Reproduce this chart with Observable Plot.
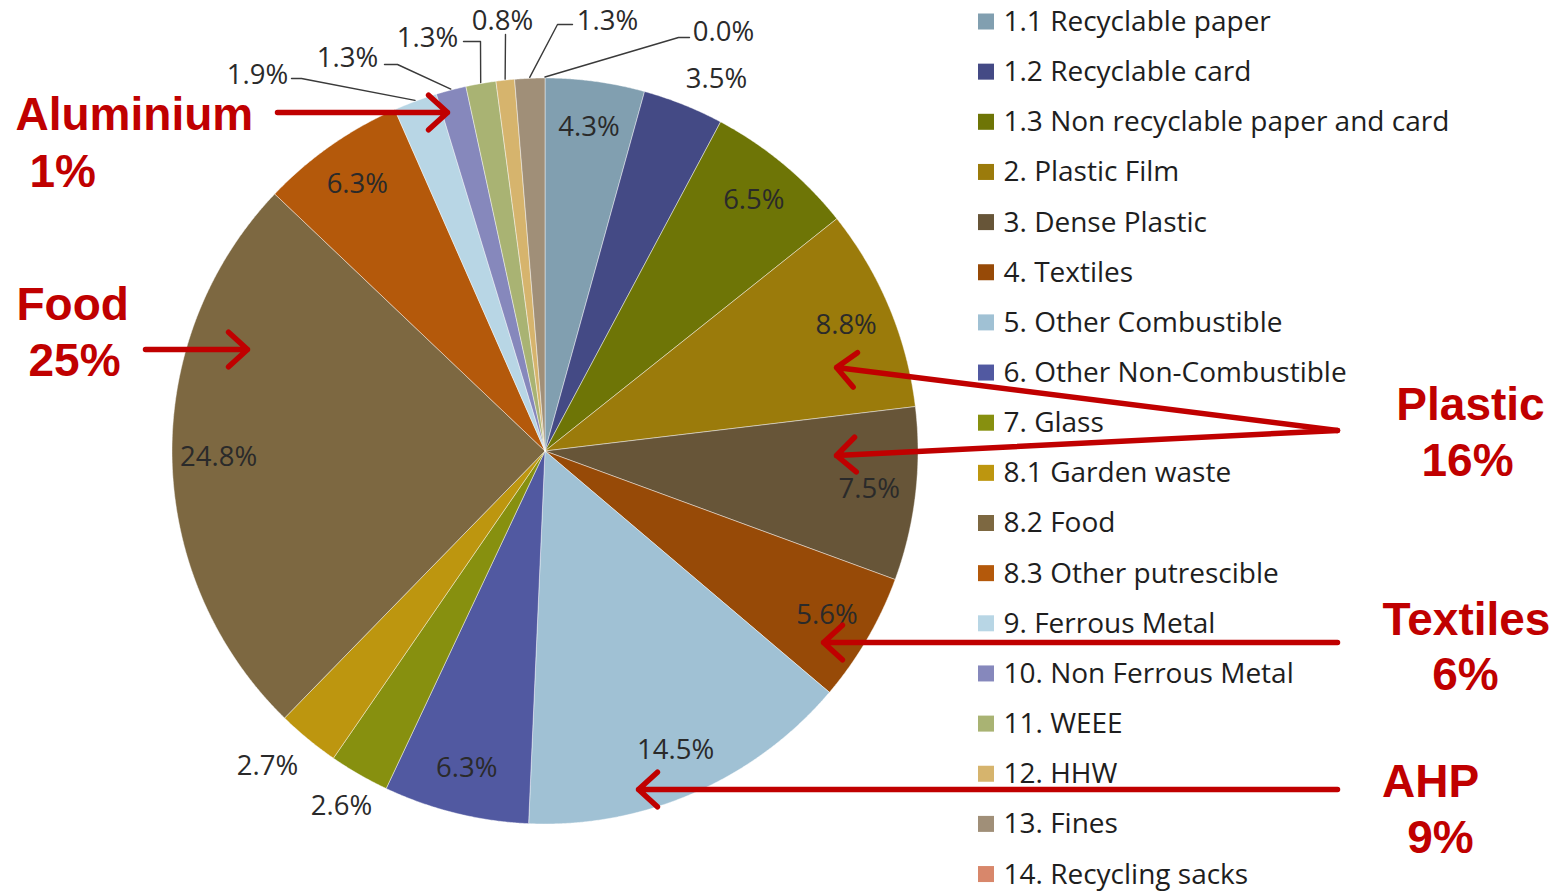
<!DOCTYPE html>
<html><head><meta charset="utf-8">
<script src="https://cdn.jsdelivr.net/npm/d3@7"></script>
<script src="https://cdn.jsdelivr.net/npm/@observablehq/plot@0.6"></script>
<style>body{margin:0;background:#fff;} #chart svg{display:block;}</style>
</head><body><div id="chart"></div>
<script>
// ---- data ----
const categories = [
  "1.1 Recyclable paper", "1.2 Recyclable card", "1.3 Non recyclable paper and card",
  "2. Plastic Film", "3. Dense Plastic", "4. Textiles", "5. Other Combustible",
  "6. Other Non-Combustible", "7. Glass", "8.1 Garden waste", "8.2 Food",
  "8.3 Other putrescible", "9. Ferrous Metal", "10. Non Ferrous Metal", "11. WEEE",
  "12. HHW", "13. Fines", "14. Recycling sacks"
];
const values = [4.3, 3.5, 6.5, 8.8, 7.5, 5.6, 14.5, 6.3, 2.6, 2.7, 24.8, 6.3, 1.9, 1.3, 1.3, 0.8, 1.3, 0.0];
const colors = [
  "#819fb0", "#444a85", "#6e7506", "#9b7b0b", "#675538", "#974a07", "#a0c1d4",
  "#5159a1", "#87900f", "#bd960f", "#7d6841", "#b4590b", "#b8d6e5", "#8688bc",
  "#a9b373", "#d6b46d", "#a08f78", "#d8876b"
];
const calloutTitles = ["Aluminium", "Food", "Plastic", "Textiles", "AHP"];
const calloutValues = ["1%", "25%", "16%", "6%", "9%"];

// ---- layout ----
const W = 1556, H = 892;
const cx = 544.5, cy = 450.5, R = 373;
const inR = 0.875 * R;
const red = "#C00000";

const rows = categories.map((c, i) => ({cat: c, value: values[i], label: values[i].toFixed(1) + "%"}));
const arcs = d3.pie().sort(null).value(d => d.value)(rows);
const mid = a => (a.startAngle + a.endAngle) / 2;
const px = (ang, r) => cx + r * Math.sin(ang);
const py = (ang, r) => cy - r * Math.cos(ang);

// slice polygons
const slicePts = [];
arcs.forEach(a => {
  if (a.data.value <= 0) return;
  const n = Math.max(2, Math.ceil((a.endAngle - a.startAngle) / 0.004));
  slicePts.push({cat: a.data.cat, x: cx, y: cy});
  for (let k = 0; k <= n; k++) {
    const ang = a.startAngle + (a.endAngle - a.startAngle) * k / n;
    slicePts.push({cat: a.data.cat, x: px(ang, R), y: py(ang, R)});
  }
  slicePts.push({cat: a.data.cat, x: cx, y: cy});
});

// label placement (outside labels and leader elbows are layout choices)
const outsideNoLeader = {
  "1.2 Recyclable card": [716, 79],
  "7. Glass": [341, 806],
  "8.1 Garden waste": [267, 766]
};
const leaderLayout = {
  "9. Ferrous Metal": {at: [257, 75], path: [[291, 78], [301, 78]]},
  "10. Non Ferrous Metal": {at: [347, 58], path: [[384, 64], [397, 64]]},
  "11. WEEE": {at: [427, 38], path: [[463, 41], [480, 41]]},
  "12. HHW": {at: [502, 21], path: [[505, 34]]},
  "13. Fines": {at: [607, 21], path: [[572, 24], [557, 24]]},
  "14. Recycling sacks": {at: [723, 32], path: [[689, 37], [678, 37]]}
};

const labelRows = arcs.map(a => {
  const c = a.data.cat;
  let x, y;
  if (outsideNoLeader[c]) [x, y] = outsideNoLeader[c];
  else if (leaderLayout[c]) [x, y] = leaderLayout[c].at;
  else { x = px(mid(a), inR); y = py(mid(a), inR); }
  return {x, y, text: a.data.label};
});

const leaderPts = [];
arcs.forEach(a => {
  const L = leaderLayout[a.data.cat];
  if (!L) return;
  L.path.forEach(p => leaderPts.push({cat: a.data.cat, x: p[0], y: p[1]}));
  leaderPts.push({cat: a.data.cat, x: px(mid(a), R + 1), y: py(mid(a), R + 1)});
});

// legend
const legRows = categories.map((c, i) => ({cat: c, y: 21.5 + i * 50.15}));

// callouts
const calloutLeft = [
  {t: calloutTitles[0], x: 15, y: 129},
  {t: calloutValues[0], x: 29, y: 186},
  {t: calloutTitles[1], x: 16, y: 319},
  {t: calloutValues[1], x: 28, y: 375}
];
const calloutRight = [
  {t: calloutTitles[2], x: 1470, y: 419},
  {t: calloutValues[2], x: 1467, y: 475},
  {t: calloutTitles[3], x: 1466, y: 634},
  {t: calloutValues[3], x: 1465, y: 689},
  {t: calloutTitles[4], x: 1430, y: 796},
  {t: calloutValues[4], x: 1440, y: 852}
];
const arrows = [
  {x1: 277, y1: 112, x2: 447, y2: 112},
  {x1: 145, y1: 349, x2: 247, y2: 349},
  {x1: 1337, y1: 430, x2: 836, y2: 367},
  {x1: 1337, y1: 430, x2: 836, y2: 455},
  {x1: 1337, y1: 642, x2: 823, y2: 642},
  {x1: 1337, y1: 789, x2: 638, y2: 789}
];
const calloutStyle = {x: "x", y: "y", text: "t", lineAnchor: "bottom", fontSize: 46, fontWeight: "bold", fontFamily: "Liberation Sans", fill: red};

const chart = Plot.plot({
  width: W, height: H,
  margin: 0,
  x: {domain: [0, W], range: [0, W], axis: null},
  y: {domain: [0, H], range: [0, H], axis: null},
  color: {domain: categories, range: colors},
  style: {background: "#fff"},
  marks: [
    Plot.line(slicePts, {x: "x", y: "y", z: "cat", fill: "cat", stroke: "#ffffff", strokeWidth: 0.8, strokeOpacity: 0.55, curve: "linear"}),
    Plot.line(leaderPts, {x: "x", y: "y", z: "cat", stroke: "#3a3a3a", strokeWidth: 1.4}),
    Plot.text(labelRows, {x: "x", y: "y", text: "text", fontSize: 27.5, fontFamily: "Open Sans", fill: "#2a2a2a"}),
    Plot.rect(legRows, {x1: () => 978, x2: () => 994, y1: d => d.y - 8, y2: d => d.y + 8, fill: "cat"}),
    Plot.text(legRows, {x: () => 1003, y: "y", text: "cat", textAnchor: "start", fontSize: 28, fontFamily: "Open Sans", fill: "#1e1e1e"}),
    Plot.arrow(arrows, {x1: "x1", y1: "y1", x2: "x2", y2: "y2", stroke: red, strokeWidth: 5.5, headAngle: 85, headLength: 7, bend: 0}),
    Plot.text(calloutLeft, {...calloutStyle, textAnchor: "start"}),
    Plot.text(calloutRight, {...calloutStyle, textAnchor: "middle"})
  ]
});
document.getElementById("chart").appendChild(chart);
</script>
</body></html>
